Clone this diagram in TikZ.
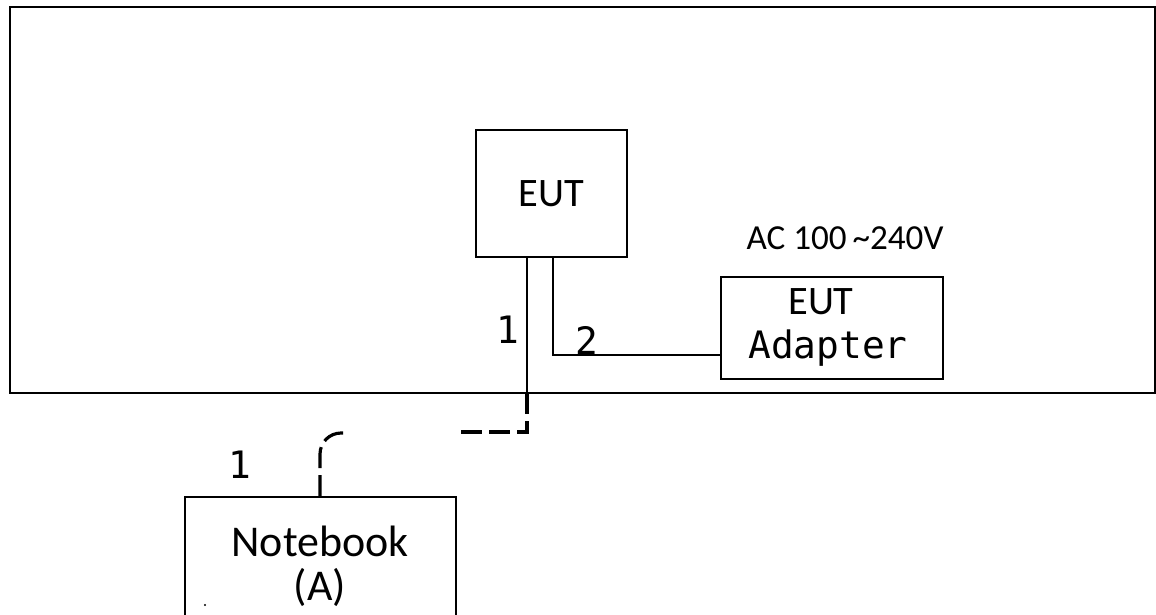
\documentclass[tikz,border=0pt]{standalone}
\usepackage{fontspec}
\setmainfont{Carlito}
\newfontfamily\monofont{DejaVu Sans Mono}
\usetikzlibrary{positioning}

\begin{document}
\begin{tikzpicture}[x=0.02cm, y=-0.02cm,
	box/.style={draw, line width=0.9pt, inner sep=0pt, align=center},
	cable/.style={line width=0.9pt},
	dashcable/.style={line width=1.8pt, dash pattern=on 12pt off 4pt},
	num/.style={font=\monofont\fontsize{21.5}{24}\selectfont}]
	\useasboundingbox (0,0) rectangle (1156,615);
	% the test area
	\draw[line width=0.7pt] (10,7) rectangle (1155,393);
	% the units
	\node[box, minimum width=151*0.02cm, minimum height=127*0.02cm, font=\fontsize{23}{26}\selectfont] (eut) at (551.5,193.5) {EUT};
	\node[box, minimum width=222*0.02cm, minimum height=102*0.02cm] (adapter) at (832,328) {};
	\node[align=center, font=\fontsize{23}{25.5}\selectfont, anchor=north] (adtext) at (828,282)
		{\hspace*{-8pt}EUT\\{\monofont\fontsize{21.5}{25.5}\selectfont Adapter}};
	\node[font=\fontsize{20}{24}\selectfont] (ac) at (845,238) {AC 100\,\textasciitilde240V};
	\node[box, minimum width=271*0.02cm, minimum height=140*0.02cm] (nb) at (320.5,567) {};
	\node[align=center, font=\fontsize{25}{25}\selectfont, anchor=north] (nbtext) at (320,520) {Notebook\\(A)};
	\fill (205,605) circle (0.6pt);
	% cable 1, EUT to the frame edge and on
	\coordinate (c1a) at (527,393);
	\coordinate (c1b) at (527,432);
	\coordinate (c1c) at (458,432);
	\draw[cable] (eut.south -| c1a) -- (c1a);
	\draw[dashcable] (c1a) -- (c1b) -- (c1c);
	% cable 1 at the notebook
	\coordinate (n1a) at (320,433);
	\coordinate (n1b) at (343,433);
	\draw[dashcable, rounded corners=12pt] (nb.north -| n1a) -- (n1a) -- (n1b);
	% cable 2, EUT to adapter
	\coordinate (c2a) at (553,355);
	\draw[cable] (eut.south -| c2a) -- (c2a) -- (adapter.west |- c2a);
	% cable numbers
	\node[num] (l1) at (508,330) {1};
	\node[num] (l2) at (587,340) {2};
	\node[num] (l3) at (240,465) {1};
\end{tikzpicture}
\end{document}
